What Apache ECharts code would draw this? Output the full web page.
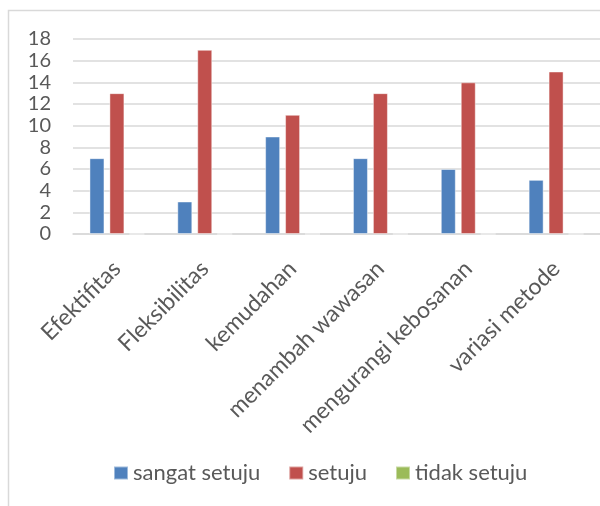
<!DOCTYPE html>
<html>
<head>
<meta charset="utf-8">
<script src="https://cdn.jsdelivr.net/npm/echarts@6/dist/echarts.min.js"></script>
<style>
  html, body { margin: 0; padding: 0; background: #fff; }
  #chart { width: 600px; height: 506px; }
</style>
</head>
<body>
<div id="chart"></div>
<script>
var categories = ['Efektifitas', 'Fleksibilitas', 'kemudahan', 'menambah wawasan', 'mengurangi kebosanan', 'variasi metode'];
var sangatSetuju = [7, 3, 9, 7, 6, 5];
var setuju = [13, 17, 11, 13, 14, 15];
var tidakSetuju = [0, 0, 0, 0, 0, 0];
var yTicks = { min: 0, max: 18, interval: 2 };

var font = 'Lato, "Open Sans", sans-serif';
var chart = echarts.init(document.getElementById('chart'));

function barSeries(name, data, color) {
    return {
        name: name,
        type: 'bar',
        data: data,
        barWidth: 15,
        barGap: '33%',
        itemStyle: { color: color, borderColor: 'rgba(255,255,255,0.45)', borderWidth: 1 }
    };
}

chart.setOption({
    animation: false,
    graphic: [{
        type: 'rect',
        shape: { x: 8.5, y: 10.5, width: 640, height: 520 },
        style: { fill: 'none', stroke: '#d9d9d9', lineWidth: 1.5 },
        silent: true
    }],
    grid: { left: 73, top: 39, width: 531, height: 195 },
    legend: {
        top: 462,
        left: 113,
        padding: 0,
        itemWidth: 14,
        itemHeight: 13,
        itemGap: 28,
        icon: 'rect',
        textStyle: { fontFamily: font, fontSize: 22, color: '#595959' },
        data: ['sangat setuju', 'setuju', 'tidak setuju']
    },
    xAxis: {
        type: 'category',
        data: categories,
        axisLine: { lineStyle: { color: '#d9d9d9', width: 1.5 } },
        axisTick: { show: false },
        axisLabel: {
            rotate: 45,
            interval: 0,
            margin: 31,
            fontFamily: font,
            fontSize: 23,
            color: '#595959'
        }
    },
    yAxis: {
        type: 'value',
        min: yTicks.min,
        max: yTicks.max,
        interval: yTicks.interval,
        axisLine: { show: false },
        axisTick: { show: false },
        axisLabel: { margin: 22, fontFamily: font, fontSize: 20, color: '#595959' },
        splitLine: { lineStyle: { color: '#d9d9d9', width: 1.5 } }
    },
    series: [
        barSeries('sangat setuju', sangatSetuju, '#4F81BD'),
        barSeries('setuju', setuju, '#C0504D'),
        barSeries('tidak setuju', tidakSetuju, '#9BBB59')
    ]
});
</script>
</body>
</html>
